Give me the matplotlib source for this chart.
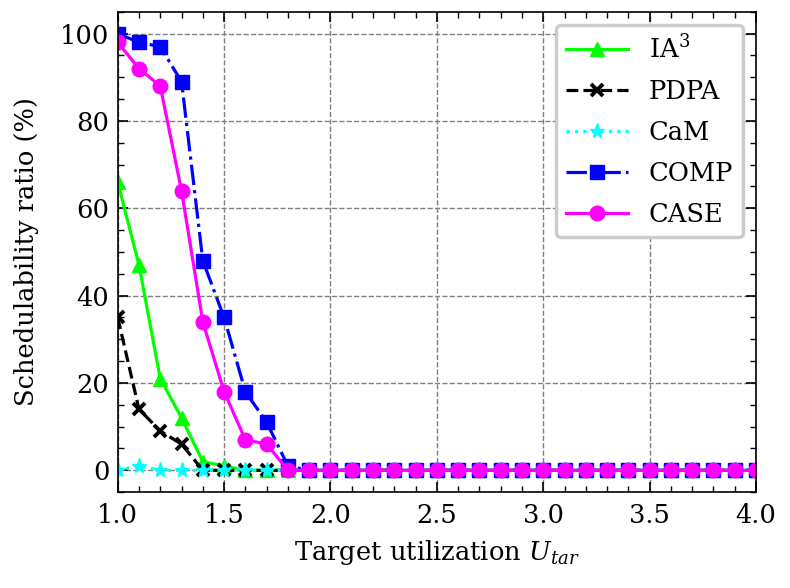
import matplotlib.pyplot as plt
import numpy as np

# target utilization 1.0 .. 4.0, step 0.1
u_tar = [round(1.0 + 0.1 * i, 1) for i in range(31)]

ia3 = [66, 47, 21, 12, 2, 1] + [0] * 25
pdpa = [35, 14, 9, 6, 0] + [0] * 26
cam = [0, 1, 0, 0, 0] + [0] * 26
comp = [100, 98, 97, 89, 48, 35, 18, 11, 1] + [0] * 22
case = [98, 92, 88, 64, 34, 18, 7, 6, 0] + [0] * 22

plt.rcParams['font.family'] = 'DejaVu Serif'
plt.rcParams['mathtext.fontset'] = 'dejavuserif'
plt.rcParams['font.size'] = 18.5

fig, ax = plt.subplots(figsize=(7.9, 5.88), dpi=100)

ax.plot(u_tar, ia3, color='#00ff00', marker='^', markersize=10.5, linewidth=2.3, label='IA$^3$')
ax.plot(u_tar, pdpa, color='black', linestyle='--', marker='x', markersize=8,
        markeredgewidth=2.8, linewidth=2.3, label='PDPA')
ax.plot(u_tar, cam, color='cyan', linestyle=':', marker='*', markersize=11, linewidth=2.3, label='CaM')
ax.plot(u_tar, comp, color='blue', linestyle='-.', marker='s', markersize=10, linewidth=2.3, label='COMP')
ax.plot(u_tar, case, color='magenta', marker='o', markersize=10.5, linewidth=2.3, label='CASE')

ax.set_xlim(1.0, 4.0)
ax.set_ylim(-5, 105)
ax.set_xticks(np.arange(1.0, 4.01, 0.5))
ax.set_xticks(np.arange(1.0, 4.01, 0.1), minor=True)
ax.set_yticks([0, 20, 40, 60, 80, 100])
ax.set_yticks(np.arange(-5, 106, 5), minor=True)
ax.tick_params(which='both', direction='in', top=True, right=True)
ax.tick_params(axis='x', which='both', pad=8)
ax.tick_params(axis='y', which='both', pad=6)
ax.tick_params(which='major', length=7, width=1.2)
ax.tick_params(which='minor', length=4, width=1.0)
for s in ax.spines.values():
    s.set_linewidth(1.2)

ax.grid(True, which='major', linestyle='--', color='gray', linewidth=1.0)

ax.set_xlabel('Target utilization $U_{tar}$', labelpad=7)
ax.set_ylabel('Schedulability ratio (%)', labelpad=15)

leg = ax.legend(loc='upper right', fontsize=18.5, frameon=True, fancybox=True,
                edgecolor='#cccccc', framealpha=1.0, handlelength=2.4,
                handletextpad=0.8, labelspacing=0.62, borderaxespad=0.5)
leg.get_frame().set_linewidth(2.5)

fig.subplots_adjust(left=0.149, right=0.957, top=0.980, bottom=0.163)
fig.savefig('out.png')
